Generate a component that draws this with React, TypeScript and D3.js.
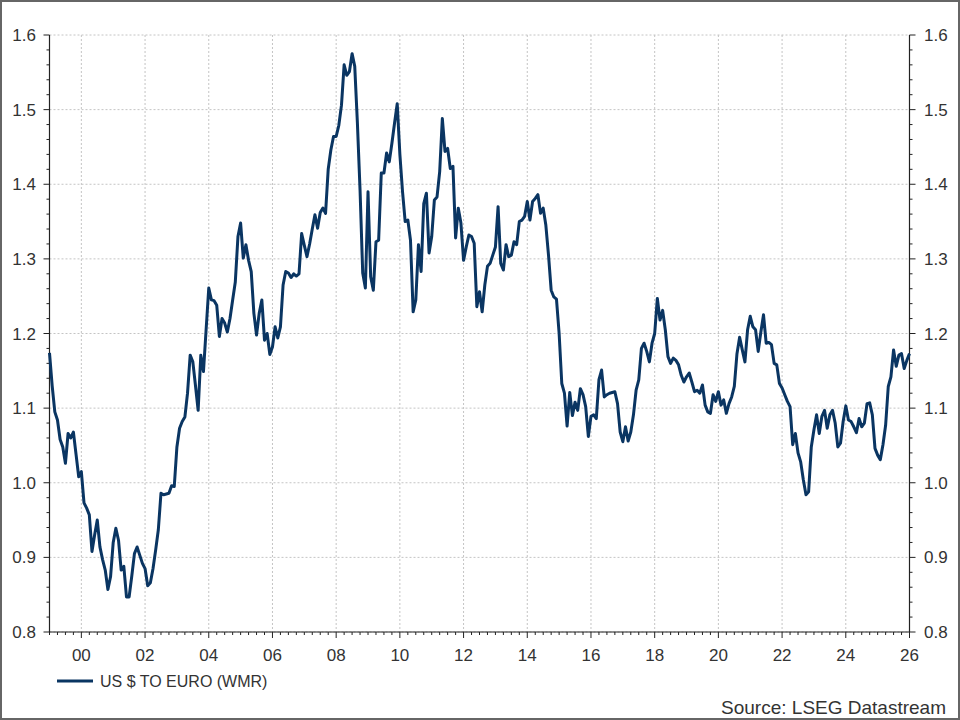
import React from "react";
import * as d3 from "d3";

const startYear = 1999;
const endYear = 2026;

// Monthly US $ to Euro (WMR), Jan 1999 onwards
const rates1999to2007 = [
  1.174, 1.13, 1.095, 1.084, 1.058, 1.048, 1.026, 1.066, 1.06, 1.068, 1.038, 1.008,
  1.015, 0.973, 0.966, 0.957, 0.908, 0.93, 0.95, 0.914, 0.897, 0.883, 0.857, 0.874,
  0.92, 0.939, 0.923, 0.883, 0.888, 0.847, 0.847, 0.875, 0.905, 0.914, 0.903, 0.892,
  0.885, 0.862, 0.866, 0.885, 0.91, 0.937, 0.986, 0.984, 0.985, 0.986, 0.996, 0.995,
  1.048, 1.073, 1.082, 1.088, 1.12, 1.171, 1.162, 1.13, 1.097, 1.171, 1.149, 1.205,
  1.261, 1.245, 1.244, 1.238, 1.196, 1.22, 1.214, 1.202, 1.22, 1.245, 1.269, 1.33,
  1.348, 1.301, 1.319, 1.298, 1.283, 1.227, 1.198, 1.227, 1.245, 1.191, 1.2, 1.172,
  1.182, 1.209, 1.194, 1.209, 1.265, 1.283, 1.281, 1.275, 1.28, 1.277, 1.28, 1.334,
  1.318, 1.303, 1.32, 1.34, 1.359, 1.341, 1.362, 1.368, 1.361, 1.42, 1.446, 1.464,
];
const rates2008to2016 = [
  1.464, 1.479, 1.506, 1.56, 1.546, 1.551, 1.575, 1.558, 1.482, 1.392, 1.281, 1.261,
  1.39, 1.276, 1.258, 1.323, 1.325, 1.415, 1.415, 1.442, 1.43, 1.455, 1.482, 1.508,
  1.44, 1.39, 1.35, 1.352, 1.325, 1.229, 1.245, 1.319, 1.283, 1.374, 1.388, 1.308,
  1.33, 1.379, 1.383, 1.417, 1.488, 1.444, 1.448, 1.421, 1.424, 1.328, 1.368, 1.348,
  1.298, 1.316, 1.332, 1.33, 1.321, 1.236, 1.256, 1.229, 1.265, 1.29, 1.294, 1.305,
  1.316, 1.37, 1.294, 1.285, 1.319, 1.303, 1.305, 1.323, 1.319, 1.35, 1.352, 1.357,
  1.377, 1.352, 1.377, 1.381, 1.386, 1.361, 1.368, 1.345, 1.305, 1.258, 1.249, 1.246,
  1.2, 1.133, 1.12, 1.076, 1.121, 1.09, 1.108, 1.097, 1.126, 1.118, 1.102, 1.062,
  1.089, 1.091, 1.086, 1.138, 1.151, 1.115, 1.118, 1.12, 1.121, 1.122, 1.106, 1.068,
];
const rates2017to2026 = [
  1.055, 1.075, 1.056, 1.068, 1.091, 1.124, 1.138, 1.18, 1.187, 1.176, 1.162, 1.187,
  1.2, 1.247, 1.218, 1.231, 1.205, 1.169, 1.16, 1.167, 1.164, 1.158, 1.144, 1.135,
  1.142, 1.147, 1.135, 1.122, 1.124, 1.12, 1.131, 1.104, 1.095, 1.093, 1.118, 1.109,
  1.122, 1.104, 1.111, 1.093, 1.106, 1.115, 1.129, 1.173, 1.195, 1.178, 1.162, 1.205,
  1.223, 1.209, 1.205, 1.176, 1.202, 1.225, 1.187, 1.188, 1.185, 1.16, 1.158, 1.133,
  1.127, 1.118, 1.109, 1.102, 1.051, 1.066, 1.04, 1.028, 1.004, 0.984, 0.988, 1.048,
  1.071, 1.091, 1.066, 1.089, 1.097, 1.073, 1.091, 1.097, 1.08, 1.048, 1.053, 1.082,
  1.103, 1.084, 1.082, 1.075, 1.067, 1.086, 1.075, 1.08, 1.106, 1.107, 1.091, 1.046,
  1.037, 1.031, 1.051, 1.077, 1.129, 1.142, 1.178, 1.156, 1.171, 1.173, 1.153, 1.164,
  1.173,
];

const yTicks = [0.8, 0.9, 1.0, 1.1, 1.2, 1.3, 1.4, 1.5, 1.6];
const xTickYears = [2000, 2002, 2004, 2006, 2008, 2010, 2012, 2014, 2016, 2018, 2020, 2022, 2024, 2026];
const seriesName = "US $ TO EURO (WMR)";
const sourceText = "Source: LSEG Datastream";

const W = 960;
const H = 720;
const FONT = "'Liberation Sans', Arial, Helvetica, sans-serif";
const LINE = "#0a3562";
const TEXT = "#333333";

export default function App() {
  const values = [...rates1999to2007, ...rates2008to2016, ...rates2017to2026];
  const data = values.map((v, i) => ({ t: startYear + i / 12, v }));

  const x = d3.scaleLinear().domain([startYear, endYear]).range([49.5, 909.5]);
  const y = d3.scaleLinear().domain([0.8, 1.6]).range([632, 35]);

  const line = d3
    .line<{ t: number; v: number }>()
    .x((d) => x(d.t))
    .y((d) => y(d.v));

  const minorY = d3.range(0.8, 1.6001, 0.02);
  const minorX = d3.range(startYear, endYear + 0.001, 0.25);
  const x0 = x.range()[0];
  const x1 = x.range()[1];
  const y0 = y.range()[0];
  const y1 = y.range()[1];

  return (
    <svg
      width={W}
      height={H}
      style={{ position: "fixed", left: 0, top: 0, background: "#fff" }}
      fontFamily={FONT}
    >
      <rect x={0} y={0} width={W} height={H} fill="#fff" />
      <rect x={1} y={1} width={W - 2} height={H - 2} fill="none" stroke="#666" strokeWidth={2} />

      {/* horizontal grid */}
      {yTicks.map((t) => (
        <line
          key={"hg" + t}
          x1={x0}
          x2={x1}
          y1={y(t)}
          y2={y(t)}
          stroke="#c4c4c4"
          strokeWidth={1}
          strokeDasharray="2,2"
        />
      ))}
      {/* vertical grid */}
      {xTickYears
        .filter((t) => t < endYear)
        .map((t) => (
          <line
            key={"vg" + t}
            x1={x(t)}
            x2={x(t)}
            y1={y1}
            y2={y0}
            stroke="#c4c4c4"
            strokeWidth={1}
            strokeDasharray="2,2"
          />
        ))}

      {/* axes lines */}
      <line x1={x0} x2={x0} y1={y1} y2={y0} stroke="#222" strokeWidth={1.2} />
      <line x1={x1} x2={x1} y1={y1} y2={y0} stroke="#222" strokeWidth={1.2} />
      <line x1={x0} x2={x1} y1={y0} y2={y0} stroke="#222" strokeWidth={1.2} />

      {/* y minor ticks both sides */}
      {minorY.map((t, i) => {
        const major = i % 5 === 0;
        const len = major ? 6 : 3;
        return (
          <g key={"yt" + i}>
            <line x1={x0 - len} x2={x0} y1={y(t)} y2={y(t)} stroke="#222" strokeWidth={1} />
            <line x1={x1} x2={x1 + len} y1={y(t)} y2={y(t)} stroke="#222" strokeWidth={1} />
          </g>
        );
      })}
      {/* x ticks */}
      {minorX.map((t, i) => {
        const isMajor = i % 4 === 0 && Math.round(t) % 2 === 0;
        const len = isMajor ? 6 : 3;
        return (
          <line key={"xt" + i} x1={x(t)} x2={x(t)} y1={y0} y2={y0 + len} stroke="#222" strokeWidth={1} />
        );
      })}

      {/* y labels */}
      {yTicks.map((t) => (
        <g key={"yl" + t}>
          <text x={36} y={y(t) + 6} textAnchor="end" fontSize={17} fill={TEXT}>
            {d3.format(".1f")(t)}
          </text>
          <text x={924} y={y(t) + 6} textAnchor="start" fontSize={17} fill={TEXT}>
            {d3.format(".1f")(t)}
          </text>
        </g>
      ))}
      {/* x labels */}
      {xTickYears.map((t) => (
        <text key={"xl" + t} x={x(t)} y={660.5} textAnchor="middle" fontSize={17} fill={TEXT}>
          {String(t % 100).padStart(2, "0")}
        </text>
      ))}

      {/* series */}
      <path d={line(data) || ""} fill="none" stroke={LINE} strokeWidth={3} strokeLinejoin="round" />

      {/* legend */}
      <line x1={57} x2={93} y1={681} y2={681} stroke={LINE} strokeWidth={3} />
      <text x={100} y={687} fontSize={16} fill={TEXT}>
        {seriesName}
      </text>

      {/* source */}
      <text x={946} y={714} textAnchor="end" fontSize={19} fill={TEXT}>
        {sourceText}
      </text>
    </svg>
  );
}
